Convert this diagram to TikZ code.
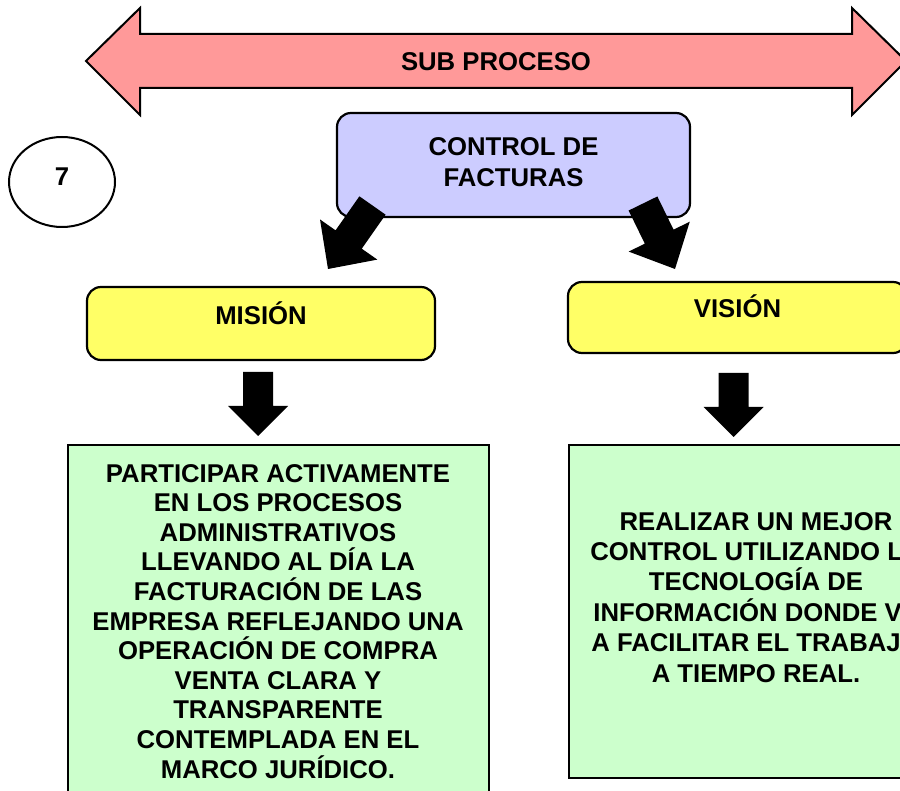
\documentclass[tikz,border=0pt]{standalone}
\usepackage{fontspec}
\setmainfont{Liberation Sans}
\usetikzlibrary{calc,shapes.geometric}
\definecolor{arrowpink}{HTML}{FF9999}
\definecolor{boxlavender}{HTML}{CCCCFF}
\definecolor{boxyellow}{HTML}{FFFF66}
\definecolor{boxgreen}{HTML}{CCFFCC}
% #1 tail, #2 tip, #3 shaft half width, #4 head half width, #5 head length
\newcommand{\blockarrow}[5]{%
  \coordinate (ba-base) at ($(#2)!#5pt!(#1)$);
  \fill[black] ($(#1)!#3pt!90:(#2)$) -- ($(ba-base)!#3pt!90:(#2)$) -- ($(ba-base)!#4pt!90:(#2)$) -- (#2)
    -- ($(ba-base)!#4pt!-90:(#2)$) -- ($(ba-base)!#3pt!-90:(#2)$) -- ($(#1)!#3pt!-90:(#2)$) -- cycle;
}
\begin{document}
\begin{tikzpicture}[x=1pt,y=-1pt,
  every node/.style={font=\bfseries\fontsize{25.7}{29.6}\selectfont},
  roundbox/.style={draw=black, line width=2.2pt, rounded corners=14pt, inner sep=0pt},
  greenbox/.style={draw=black, line width=2pt, fill=boxgreen},
  txt/.style={inner sep=0pt, text height=18.4pt, text depth=0pt},
  para/.style={inner sep=0pt, align=center, anchor=north}]
\clip (0,0) rectangle (900,791);
\fill[white] (0,0) rectangle (900,791);

% top double arrow
\draw[line width=2pt, fill=arrowpink, line join=miter]
  (86,61) -- (140,8) -- (140,34) -- (852,34) -- (852,8) -- (906,61)
  -- (852,115) -- (852,88) -- (140,88) -- (140,115) -- cycle;
\node[txt] (sub) at (496,61) {SUB PROCESO};

% number circle
\node[ellipse, draw=black, line width=2pt, minimum width=106pt, minimum height=90pt, inner sep=0pt] (num) at (62,182) {};
\node[txt] (numt) at (62,176) {7};

% control box
\node[roundbox, fill=boxlavender, minimum width=353pt, minimum height=104pt] (control) at (513.5,165) {};
\node[para] (controlt) at (513.5,137) {CONTROL DE\\[1.4pt]FACTURAS};

% mision / vision boxes
\node[roundbox, fill=boxyellow, minimum width=348pt, minimum height=73pt] (mision) at (261,323.5) {};
\node[txt] (misiont) at (261,315) {MISIÓN};
\node[roundbox, fill=boxyellow, minimum width=339pt, minimum height=71pt] (vision) at (737.5,317.5) {};
\node[txt] (visiont) at (737.5,308) {VISIÓN};

% connector end points
\coordinate (cl-tail) at (372.5,205.5);
\coordinate (cl-tip) at (328,269);
\coordinate (cr-tail) at (643,203.5);
\coordinate (cr-tip) at (675,269);
\coordinate (ml-tail) at (258,372);
\coordinate (ml-tip) at (258,436);
\coordinate (vr-tail) at (733.5,373);
\coordinate (vr-tip) at (733.5,437);

\blockarrow{cl-tail}{cl-tip}{16}{35}{36}
\blockarrow{cr-tail}{cr-tip}{16}{34}{36}
\blockarrow{ml-tail}{ml-tip}{15}{30}{30}
\blockarrow{vr-tail}{vr-tip}{15}{30}{30}

% text boxes
\draw[greenbox] (68,445) rectangle (489,805);
\node[para] (misiontext) at (278,464) {PARTICIPAR ACTIVAMENTE\\EN LOS PROCESOS\\ADMINISTRATIVOS\\LLEVANDO AL DÍA LA\\FACTURACIÓN DE LAS\\EMPRESA REFLEJANDO UNA\\OPERACIÓN DE COMPRA\\VENTA CLARA Y\\TRANSPARENTE\\CONTEMPLADA EN EL\\MARCO JURÍDICO.};
\draw[greenbox] (569,445) rectangle (950,778);
\node[para] (visiontext) at (756,512) {REALIZAR UN MEJOR\\[0.8pt]CONTROL UTILIZANDO LA\\[0.8pt]TECNOLOGÍA DE\\[0.8pt]INFORMACIÓN DONDE VA\\[0.8pt]A FACILITAR EL TRABAJO\\[0.8pt]A TIEMPO REAL.};
\end{tikzpicture}
\end{document}
